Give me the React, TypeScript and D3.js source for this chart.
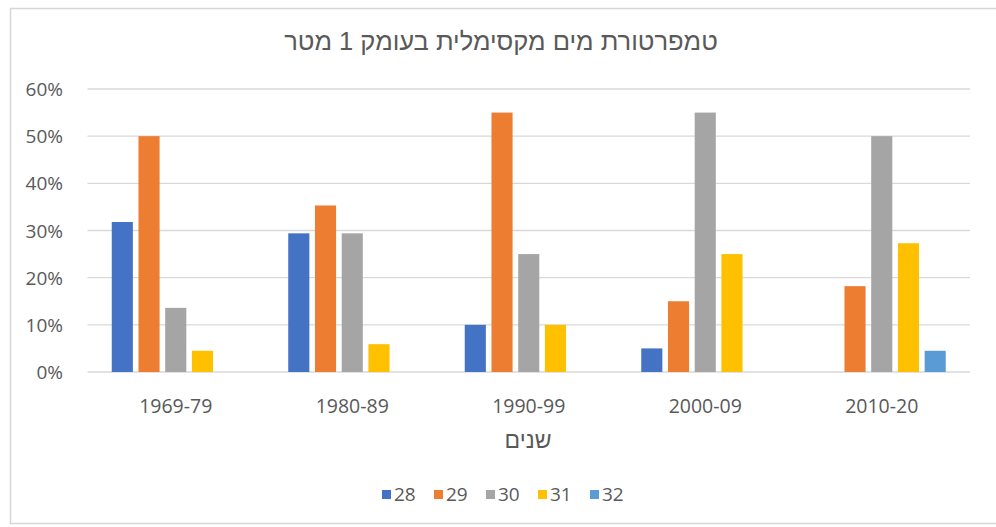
import React from "react";
import * as d3 from "d3";

const categories = ["1969-79", "1980-89", "1990-99", "2000-09", "2010-20"];
const seriesNames = ["28", "29", "30", "31", "32"];
const s28 = [31.8, 29.4, 10, 5, 0];
const s29 = [50, 35.3, 55, 15, 18.2];
const s30 = [13.6, 29.4, 25, 55, 50];
const s31 = [4.5, 5.9, 10, 25, 27.3];
const s32 = [0, 0, 0, 0, 4.5];
const seriesValues = [s28, s29, s30, s31, s32];
const colors = ["#4472C4", "#ED7D31", "#A5A5A5", "#FFC000", "#5B9BD5"];
const yTicks = [0, 10, 20, 30, 40, 50, 60];
const title = "טמפרטורת מים מקסימלית בעומק 1 מטר";
const xTitle = "שנים";

const W = 996;
const H = 527;
const plotLeft = 87.5;
const plotRight = 970;
const plotTop = 89;
const plotBottom = 372;

export default function App() {
  const x0 = d3.scaleBand<string>().domain(categories).range([plotLeft, plotRight]).padding(0);
  const y = d3.scaleLinear().domain([0, 60]).range([plotBottom, plotTop]);
  const groupW = 128;
  const x1 = d3.scaleBand<string>().domain(seriesNames).range([0, groupW]).paddingInner(0.21).paddingOuter(0);
  const textColor = "#595959";
  const numFont = "'Open Sans', 'Liberation Sans', sans-serif";
  const hebFont = "'Liberation Sans', Arial, 'DejaVu Sans', sans-serif";

  const legendX = d3.scaleBand<string>().domain(seriesNames).range([382, 642]);

  return (
    <svg
      width={W}
      height={H}
      style={{ position: "absolute", left: 0, top: 0, background: "#fff" }}
    >
      <rect x={10.5} y={8.5} width={W} height={515} fill="#fff" stroke="#d6d6d6" strokeWidth={1.5} />
      <text
        x={501}
        y={50}
        textAnchor="middle"
        fontFamily={hebFont}
        fontSize={25.5}
        fill={textColor}
        direction="rtl"
      >
        {title}
      </text>
      {yTicks.map((t) => (
        <g key={t}>
          <line
            x1={plotLeft}
            x2={plotRight}
            y1={y(t)}
            y2={y(t)}
            stroke="#d9d9d9"
            strokeWidth={1.3}
          />
          <text
            x={63}
            y={y(t) + 7}
            textAnchor="end"
            fontFamily={numFont}
            fontSize={19}
            fill={textColor}
          >
            {t}%
          </text>
        </g>
      ))}
      {categories.map((c, ci) => {
        const cx = (x0(c) as number) + x0.bandwidth() / 2;
        const gx = cx - groupW / 2;
        return (
          <g key={c}>
            {seriesNames.map((s, si) => {
              const v = seriesValues[si][ci];
              if (!v) return null;
              return (
                <rect
                  key={s}
                  x={gx + (x1(s) as number)}
                  y={y(v)}
                  width={x1.bandwidth()}
                  height={y(0) - y(v)}
                  fill={colors[si]}
                />
              );
            })}
            <text
              x={cx}
              y={413}
              textAnchor="middle"
              fontFamily={numFont}
              fontSize={19.5}
              fill={textColor}
            >
              {c}
            </text>
          </g>
        );
      })}
      <text
        x={528}
        y={448}
        textAnchor="middle"
        fontFamily={hebFont}
        fontSize={23}
        fill={textColor}
        direction="rtl"
      >
        {xTitle}
      </text>
      {seriesNames.map((s, si) => {
        const lx = legendX(s) as number;
        return (
          <g key={s}>
            <rect x={lx} y={490} width={9} height={9} fill={colors[si]} />
            <text
              x={lx + 12}
              y={501}
              fontFamily={numFont}
              fontSize={19}
              fill={textColor}
            >
              {s}
            </text>
          </g>
        );
      })}
    </svg>
  );
}
